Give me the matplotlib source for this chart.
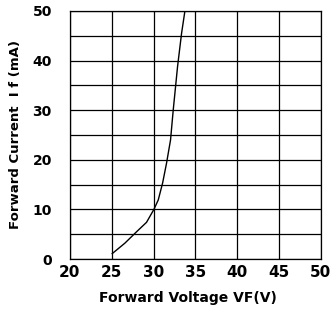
import numpy as np
import matplotlib.pyplot as plt

# forward voltage (V) vs forward current (mA)
vf = [25.06, 26.57, 27.97, 29.16, 30.04, 30.56, 31.08, 31.55, 32.03, 32.35, 32.87, 33.35, 33.75]
iff = [1.1, 3.2, 5.5, 7.4, 10.0, 11.9, 15.3, 19.3, 24.0, 30.0, 38.8, 45.5, 50.0]

xticks = [20, 25, 30, 35, 40, 45, 50]
yticks = [0, 10, 20, 30, 40, 50]
ygrid = [5, 15, 25, 35, 45]

fig = plt.figure(figsize=(3.36, 3.11), dpi=100)
ax = fig.add_axes([0.208, 0.167, 0.747, 0.798])

ax.plot(vf, iff, color='black', linewidth=1.0)

ax.set_xlim(20, 50)
ax.set_ylim(0, 50)
ax.set_xticks(xticks)
ax.set_yticks(yticks)
ax.set_yticks(ygrid, minor=True)
ax.grid(True, which='both', color='black', linewidth=0.9)
ax.tick_params(which='both', length=0)
ax.tick_params(axis='x', pad=4, labelsize=11)
ax.tick_params(axis='y', pad=13, labelsize=10)
for lab in ax.get_xticklabels() + ax.get_yticklabels():
    lab.set_fontweight('bold')
for s in ax.spines.values():
    s.set_linewidth(0.9)

ax.set_xlabel('Forward Voltage VF(V)', fontsize=10, fontweight='bold')
ax.set_ylabel('Forward Current  I f (mA)', fontsize=9.5, fontweight='bold')
ax.xaxis.set_label_coords(0.47, -0.13)
ax.yaxis.set_label_coords(-0.19, 0.5)

fig.savefig('out.png', dpi=100)
